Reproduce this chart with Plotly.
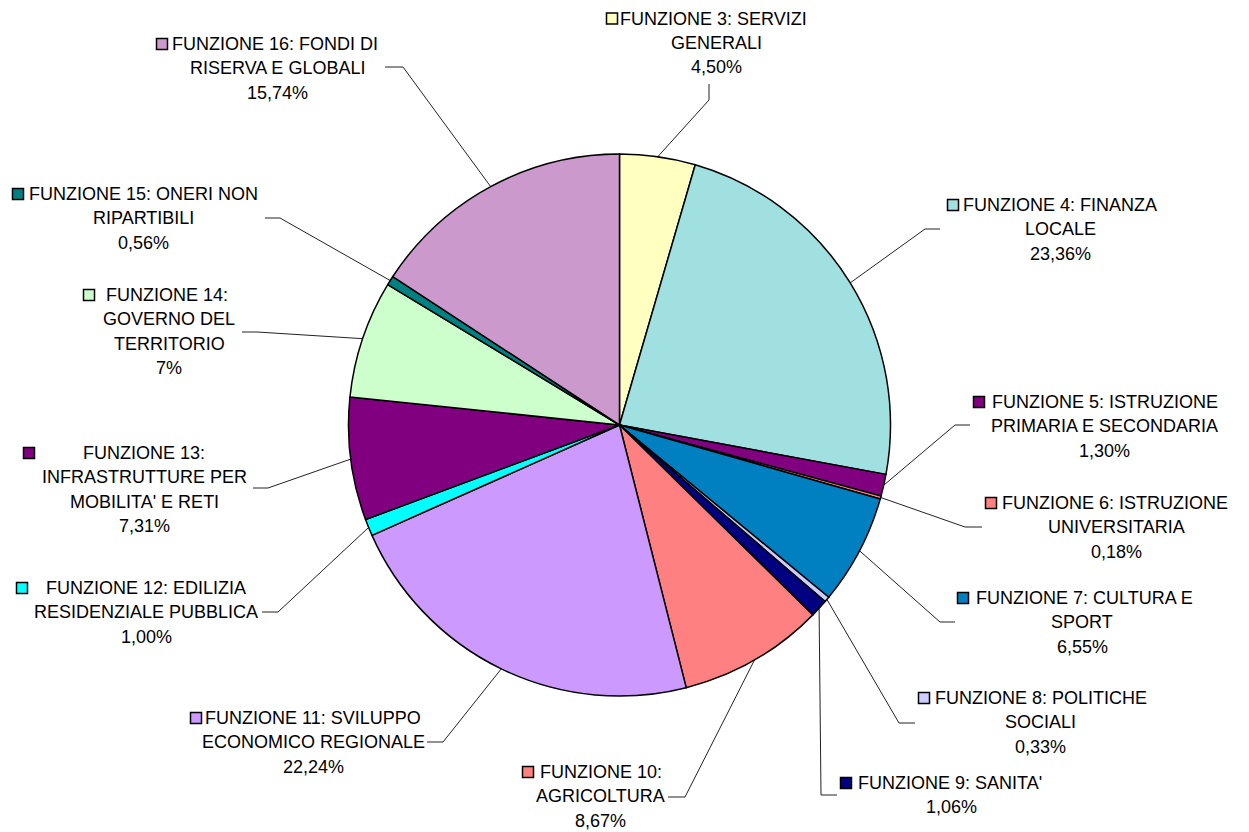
import numpy as np
import plotly.graph_objects as go

W, H = 1249, 832

# ---------------- data ----------------
categories = [
    "FUNZIONE 3: SERVIZI GENERALI",
    "FUNZIONE 4: FINANZA LOCALE",
    "FUNZIONE 5: ISTRUZIONE PRIMARIA E SECONDARIA",
    "FUNZIONE 6: ISTRUZIONE UNIVERSITARIA",
    "FUNZIONE 7: CULTURA E SPORT",
    "FUNZIONE 8: POLITICHE SOCIALI",
    "FUNZIONE 9: SANITA'",
    "FUNZIONE 10: AGRICOLTURA",
    "FUNZIONE 11: SVILUPPO ECONOMICO REGIONALE",
    "FUNZIONE 12: EDILIZIA RESIDENZIALE PUBBLICA",
    "FUNZIONE 13: INFRASTRUTTURE PER MOBILITA' E RETI",
    "FUNZIONE 14: GOVERNO DEL TERRITORIO",
    "FUNZIONE 15: ONERI NON RIPARTIBILI",
    "FUNZIONE 16: FONDI DI RISERVA E GLOBALI",
]
values = [4.50, 23.36, 1.30, 0.18, 6.55, 0.33, 1.06, 8.67, 22.24, 1.00, 7.31, 7.00, 0.56, 15.74]
pct_text = ["4,50%", "23,36%", "1,30%", "0,18%", "6,55%", "0,33%", "1,06%",
            "8,67%", "22,24%", "1,00%", "7,31%", "7%", "0,56%", "15,74%"]
label_lines = [
    ["FUNZIONE 3: SERVIZI", "GENERALI"],
    ["FUNZIONE 4: FINANZA", "LOCALE"],
    ["FUNZIONE 5: ISTRUZIONE", "PRIMARIA E SECONDARIA"],
    ["FUNZIONE 6: ISTRUZIONE", "UNIVERSITARIA"],
    ["FUNZIONE 7: CULTURA E", "SPORT"],
    ["FUNZIONE 8: POLITICHE", "SOCIALI"],
    ["FUNZIONE 9: SANITA'"],
    ["FUNZIONE 10:", "AGRICOLTURA"],
    ["FUNZIONE 11: SVILUPPO", "ECONOMICO REGIONALE"],
    ["FUNZIONE 12: EDILIZIA", "RESIDENZIALE PUBBLICA"],
    ["FUNZIONE 13:", "INFRASTRUTTURE PER", "MOBILITA' E RETI"],
    ["FUNZIONE 14:", "GOVERNO DEL", "TERRITORIO"],
    ["FUNZIONE 15: ONERI NON", "RIPARTIBILI"],
    ["FUNZIONE 16: FONDI DI", "RISERVA E GLOBALI"],
]
colors = ["#FFFFC0", "#A0E0E0", "#800080", "#FF8080", "#0080C0", "#CCCCFF", "#000080",
          "#FF8080", "#CC99FF", "#00FFFF", "#800080", "#CCFFCC", "#008080", "#CC99CC"]

# ---------------- layout (pixel positions) ----------------
CX, CY, R = 619.5, 425.0, 271.0
FONT = "Liberation Sans, Arial, sans-serif"
FS = 18
LS = 24.3
# key_x, line1 centre x, other lines centre x, first line y, leader anchor points
lab_pos = [
    (606, 713, 716, 18.5, [(709, 84), (709, 100)]),
    (947, 1060, 1060, 205, [(940, 229), (925, 229)]),
    (973, 1105, 1104, 402, [(970, 425), (955, 425)]),
    (985, 1115, 1116, 503, [(982, 527), (965, 527)]),
    (957, 1084, 1082, 598, [(955, 622), (940, 622)]),
    (918, 1041, 1040, 698, [(915, 723), (899, 723)]),
    (840, 950, 951, 783, [(837, 795), (821, 795)]),
    (522, 601, 600, 772, [(668, 797), (685, 797)]),
    (190, 313, 313, 718, [(427, 742), (443, 742)]),
    (16, 146, 146, 588, [(262, 612), (278, 612)]),
    (23, 144, 144, 453, [(253, 488), (268, 488)]),
    (83, 167, 169, 295, [(242, 332), (257, 332)]),
    (12, 143, 143, 194, [(265, 218), (280, 218)]),
    (156, 275, 277, 44, [(385, 67), (403, 67)]),
]

fig = go.Figure()

# leader lines: end point on the pie edge at slice mid-angle (from the data)
vals = np.array(values, dtype=float)
frac = vals / vals.sum()
mid = (np.cumsum(frac) - frac / 2) * 2 * np.pi
lx, ly = [], []
for i, (kx, c1, cx, y0, pts) in enumerate(lab_pos):
    ex = CX + R * np.sin(mid[i])
    ey = CY - R * np.cos(mid[i])
    for (px, py) in pts:
        lx.append(px)
        ly.append(py)
    lx += [ex, None]
    ly += [ey, None]
fig.add_trace(go.Scatter(x=lx, y=ly, mode="lines", line=dict(color="#222222", width=1),
                         hoverinfo="skip", showlegend=False))

# legend keys
fig.add_trace(go.Scatter(
    x=[p[0] + 6 for p in lab_pos], y=[p[3] for p in lab_pos], mode="markers",
    marker=dict(symbol="square", size=11, color=colors, line=dict(color="black", width=1.5)),
    hoverinfo="skip", showlegend=False))

# pie
fig.add_trace(go.Pie(
    values=values, labels=categories, sort=False, direction="clockwise", rotation=0,
    marker=dict(colors=colors, line=dict(color="black", width=1.5)),
    textinfo="none", showlegend=False, hoverinfo="label+percent",
    domain=dict(x=[(CX - R) / W, (CX + R) / W], y=[1 - (CY + R) / H, 1 - (CY - R) / H]),
))

annotations = []
for i, (kx, c1, cx, y0, pts) in enumerate(lab_pos):
    lines = label_lines[i] + [pct_text[i]]
    for j, t in enumerate(lines):
        annotations.append(dict(
            x=c1 if j == 0 else cx, y=y0 + j * LS, xref="x", yref="y", text=t,
            showarrow=False, xanchor="center", yanchor="middle",
            font=dict(family=FONT, size=FS, color="black")))

fig.update_layout(
    width=W, height=H, margin=dict(l=0, r=0, t=0, b=0),
    paper_bgcolor="white", plot_bgcolor="white",
    xaxis=dict(range=[0, W], visible=False, fixedrange=True, domain=[0, 1]),
    yaxis=dict(range=[H, 0], visible=False, fixedrange=True, domain=[0, 1]),
    annotations=annotations,
)

fig.write_html("out.html")
